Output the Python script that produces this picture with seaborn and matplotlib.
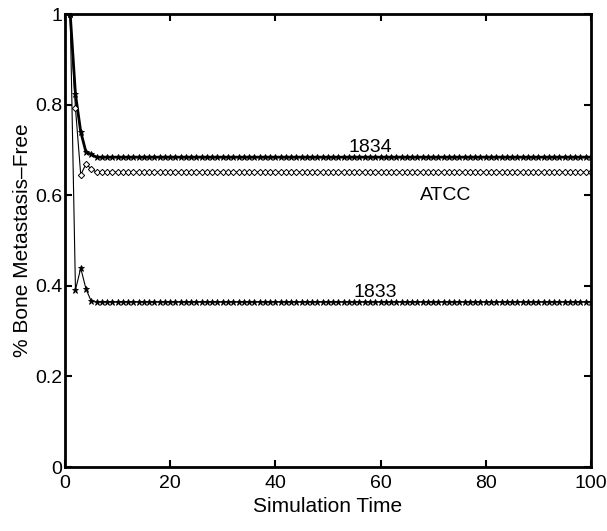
import matplotlib
matplotlib.use("Agg")
import matplotlib.pyplot as plt
import seaborn as sns
import pandas as pd

# Fraction of simulated animals still free of bone metastasis, per time step
time = list(range(1, 101))
head_1834 = [1.0, 0.823, 0.740, 0.695, 0.690]
head_atcc = [1.0, 0.792, 0.645, 0.669, 0.658]
head_1833 = [1.0, 0.391, 0.439, 0.393, 0.366]
plateau_1834 = 0.684
plateau_atcc = 0.651
plateau_1833 = 0.364
free_1834 = head_1834 + [plateau_1834] * (100 - len(head_1834))
free_atcc = head_atcc + [plateau_atcc] * (100 - len(head_atcc))
free_1833 = head_1833 + [plateau_1833] * (100 - len(head_1833))

x_ticks = [0, 20, 40, 60, 80, 100]
y_ticks = [0, 0.2, 0.4, 0.6, 0.8, 1]
y_tick_labels = ["0", "0.2", "0.4", "0.6", "0.8", "1"]

df = pd.DataFrame({
    "t": time * 3,
    "free": free_1834 + free_atcc + free_1833,
    "line": ["1834"] * 100 + ["ATCC"] * 100 + ["1833"] * 100,
})

sns.set_theme(style="white")
plt.rcParams["font.family"] = ["Liberation Sans", "DejaVu Sans"]
plt.rcParams["text.color"] = "black"
plt.rcParams["axes.labelcolor"] = "black"
plt.rcParams["xtick.color"] = "black"
plt.rcParams["ytick.color"] = "black"

fig = plt.figure(figsize=(6.07, 5.31), dpi=100)
ax = fig.add_axes([0.1070, 0.1205, 0.8665, 0.8531])

styles = {
    "1834": dict(marker="*", lw=2.0, ms=5, mfc="black", mec="black"),
    "ATCC": dict(marker="D", lw=0.8, ms=3.2, mfc="white", mec="black", mew=0.7),
    "1833": dict(marker="*", lw=0.8, ms=5, mfc="black", mec="black"),
}
for name, st in styles.items():
    sub = df[df["line"] == name]
    sns.lineplot(data=sub, x="t", y="free", ax=ax, color="black",
                 linewidth=st["lw"], marker=st["marker"], markersize=st["ms"],
                 markerfacecolor=st["mfc"], markeredgecolor=st["mec"],
                 markeredgewidth=st.get("mew", 0.6), legend=False)

# Curve labels
ax.text(58.0, plateau_1834 + 0.002, "1834", ha="center", va="bottom", fontsize=14)
ax.text(72.3, 0.599, "ATCC", ha="center", va="center", fontsize=14)
ax.text(59.0, plateau_1833 + 0.002, "1833", ha="center", va="bottom", fontsize=14)

ax.set_xlim(0, 100)
ax.set_ylim(0, 1)
ax.set_xticks(x_ticks)
ax.set_yticks(y_ticks)
ax.set_yticklabels(y_tick_labels)
ax.set_xlabel("Simulation Time", fontsize=15, labelpad=3)
ax.set_ylabel("% Bone Metastasis\u2013Free", fontsize=15, labelpad=2)
ax.tick_params(direction="in", length=5, width=1.5, labelsize=14,
               top=True, right=True, bottom=True, left=True)
ax.tick_params(axis="x", pad=6)
ax.tick_params(axis="y", pad=2)
for sp in ax.spines.values():
    sp.set_visible(True)
    sp.set_linewidth(2.0)
    sp.set_color("black")

fig.savefig("out.png", dpi=100)
